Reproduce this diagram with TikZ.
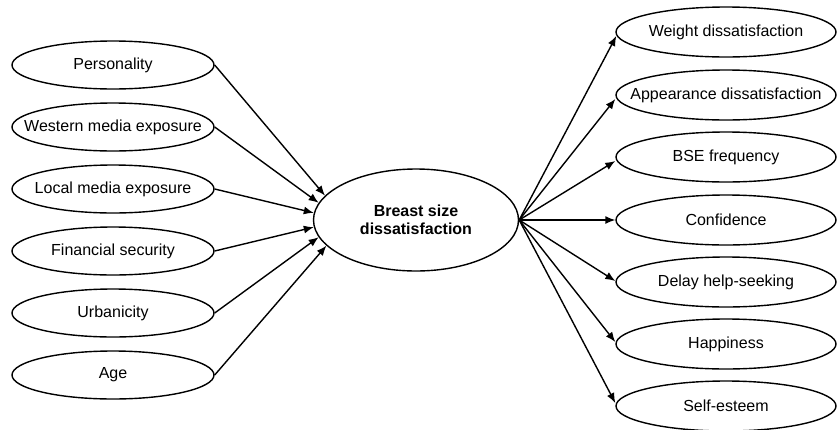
\documentclass[tikz,border=0pt]{standalone}
\usepackage{fontspec}
\setmainfont{Liberation Sans}
\usetikzlibrary{shapes.geometric,arrows.meta,calc}
\begin{document}
\begin{tikzpicture}[x=1pt,y=-1pt,
  base/.style={ellipse,draw,line width=1.4pt,inner xsep=-30pt,inner ysep=0pt,font=\fontsize{16}{19}\selectfont},
  lbox/.style={base,minimum width=202pt,minimum height=48pt},
  rbox/.style={base,minimum width=220pt,minimum height=50pt},
  cbox/.style={base,minimum width=205pt,minimum height=102pt,align=center,font=\fontsize{16}{18.5}\selectfont\bfseries},
  arr/.style={line width=1.4pt,-{Latex[length=10pt,width=8pt]}}]
\useasboundingbox (0,0) rectangle (838,429);
\node[cbox] (c) at (416,220) {Breast size\\dissatisfaction};
\node[lbox] (l1) at (113,65) {Personality};
\node[lbox] (l2) at (113,127) {Western media exposure};
\node[lbox] (l3) at (113,189) {Local media exposure};
\node[lbox] (l4) at (113,251) {Financial security};
\node[lbox] (l5) at (113,313) {Urbanicity};
\node[lbox] (l6) at (113,375) {Age};
\node[rbox] (r1) at (726,32) {Weight dissatisfaction};
\node[rbox] (r2) at (726,95) {Appearance dissatisfaction};
\node[rbox] (r3) at (726,157) {BSE frequency};
\node[rbox] (r4) at (726,220) {Confidence};
\node[rbox] (r5) at (726,282) {Delay help-seeking};
\node[rbox] (r6) at (726,344) {Happiness};
\node[rbox] (r7) at (726,406) {Self-esteem};
\draw[arr] (l1.east) -- (c.165);
\draw[arr] (l2.east) -- (c.170);
\draw[arr] (l3.east) -- (c.176);
\draw[arr] (l4.east) -- (c.184);
\draw[arr] (l5.east) -- (c.190);
\draw[arr] (l6.east) -- (c.196);
\draw[arr] (c.east) -- ($(r1.west)+(1,4)$);
\draw[arr] (c.east) -- ($(r2.west)+(0,4)$);
\draw[arr] (c.east) -- ($(r3.west)+(0,4)$);
\draw[arr] (c.east) -- (r4.west);
\draw[arr] (c.east) -- ($(r5.west)+(0,-1)$);
\draw[arr] (c.east) -- ($(r6.west)+(0,-2)$);
\draw[arr] (c.east) -- ($(r7.west)+(0,-3)$);
\end{tikzpicture}
\end{document}
